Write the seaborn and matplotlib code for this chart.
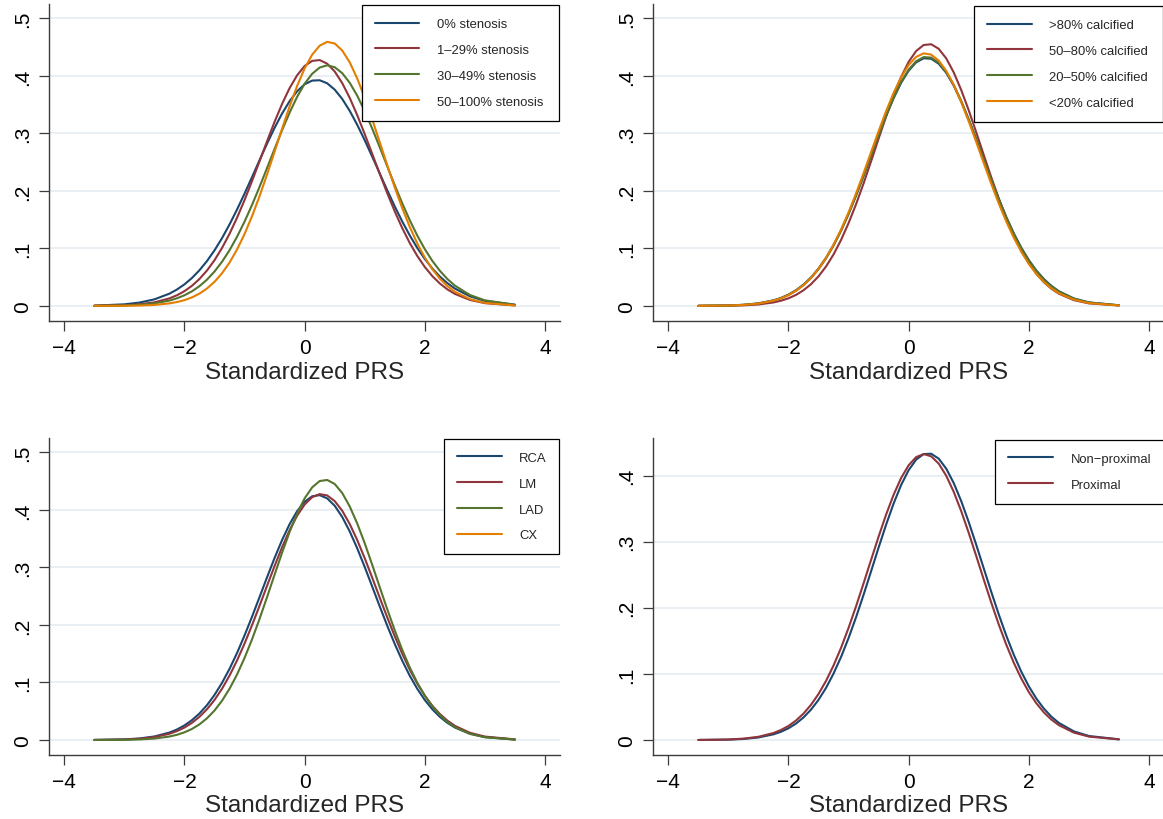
import matplotlib
matplotlib.use("Agg")
import matplotlib.pyplot as plt
from matplotlib.lines import Line2D
import pandas as pd
import seaborn as sns

# ---------------------------------------------------------------------------
# Kernel density of the standardized polygenic risk score, by lesion group
# ---------------------------------------------------------------------------
prs_grid = [-3.5, -3.0, -2.75, -2.5, -2.25, -2.125, -2.0, -1.875, -1.75, -1.625,
            -1.5, -1.375, -1.25, -1.125, -1.0, -0.875, -0.75, -0.625, -0.5, -0.375,
            -0.25, -0.125, 0.0, 0.125, 0.25, 0.375, 0.5, 0.625, 0.75, 0.875,
            1.0, 1.125, 1.25, 1.375, 1.5, 1.625, 1.75, 1.875, 2.0, 2.125,
            2.25, 2.375, 2.5, 2.75, 3.0, 3.5]

# Degree of stenosis
stenosis_labels = ["0% stenosis", "1\u201329% stenosis", "30\u201349% stenosis",
                   "50\u2013100% stenosis"]
stenosis_0 = [.0005, .0027, .0058, .0114, .0213, .0285, .0375, .0486, .0621, .0781,
              .0967, .1179, .1417, .1677, .1954, .2243, .2536, .2824, .3098, .3347,
              .3562, .3734, .3855, .3919, .3925, .3872, .3762, .3600, .3393, .3150,
              .2881, .2595, .2303, .2011, .1730, .1467, .1225, .1007, .0816, .0651,
              .0511, .0396, .0302, .0167, .0087, .0020]
stenosis_1_29 = [.0002, .0011, .0028, .0062, .0131, .0185, .0257, .0350, .0469, .0616,
                 .0795, .1008, .1255, .1534, .1842, .2173, .2519, .2866, .3203, .3515,
                 .3789, .4012, .4173, .4262, .4276, .4213, .4078, .3876, .3619, .3318,
                 .2988, .2643, .2297, .1960, .1643, .1352, .1093, .0868, .0677, .0518,
                 .0390, .0288, .0209, .0104, .0048, .0008]
stenosis_30_49 = [.0001, .0008, .0019, .0044, .0093, .0132, .0185, .0254, .0344, .0457,
                  .0598, .0768, .0969, .1203, .1467, .1758, .2072, .2400, .2733, .3058,
                  .3363, .3637, .3865, .4038, .4146, .4185, .4152, .4049, .3881, .3657,
                  .3387, .3083, .2759, .2427, .2098, .1783, .1489, .1223, .0987, .0783,
                  .0611, .0468, .0353, .0190, .0096, .0020]
stenosis_50_100 = [.0001, .0002, .0006, .0017, .0044, .0067, .0100, .0148, .0214, .0303,
                   .0419, .0568, .0754, .0981, .1251, .1562, .1910, .2288, .2684, .3084,
                   .3471, .3827, .4132, .4370, .4526, .4593, .4565, .4443, .4237, .3957,
                   .3619, .3243, .2846, .2446, .2059, .1698, .1372, .1085, .0841, .0638,
                   .0474, .0345, .0246, .0118, .0052, .0008]

# Degree of calcification
calcified_labels = [">80% calcified", "50\u201380% calcified", "20\u201350% calcified",
                    "<20% calcified"]
calcified_gt80 = [.0001, .0007, .0019, .0044, .0096, .0138, .0196, .0272, .0370, .0495,
                  .0650, .0837, .1059, .1316, .1606, .1925, .2265, .2616, .2967, .3304,
                  .3613, .3881, .4092, .4237, .4307, .4299, .4213, .4055, .3832, .3555,
                  .3239, .2897, .2545, .2195, .1859, .1546, .1262, .1012, .0797, .0616,
                  .0468, .0349, .0255, .0129, .0061, .0011]
calcified_50_80 = [.0001, .0003, .0009, .0025, .0060, .0090, .0132, .0191, .0272, .0378,
                   .0514, .0685, .0895, .1147, .1440, .1770, .2131, .2516, .2910, .3297,
                   .3660, .3983, .4245, .4434, .4538, .4551, .4472, .4306, .4062, .3755,
                   .3402, .3019, .2625, .2237, .1868, .1528, .1225, .0962, .0741, .0559,
                   .0413, .0299, .0212, .0100, .0044, .0007]
calcified_20_50 = [.0001, .0007, .0018, .0042, .0093, .0134, .0190, .0265, .0362, .0485,
                   .0639, .0826, .1048, .1305, .1596, .1917, .2260, .2615, .2970, .3312,
                   .3625, .3895, .4110, .4256, .4328, .4319, .4233, .4072, .3846, .3565,
                   .3244, .2898, .2542, .2190, .1852, .1537, .1252, .1001, .0786, .0606,
                   .0458, .0341, .0249, .0125, .0058, .0010]
calcified_lt20 = [.0001, .0006, .0017, .0040, .0091, .0132, .0188, .0263, .0361, .0487,
                  .0644, .0835, .1062, .1327, .1627, .1957, .2310, .2675, .3039, .3388,
                  .3706, .3979, .4191, .4331, .4393, .4371, .4268, .4089, .3843, .3545,
                  .3209, .2851, .2485, .2124, .1781, .1467, .1185, .0940, .0731, .0558,
                  .0418, .0307, .0221, .0109, .0049, .0008]

# Coronary artery (no CX curve is estimated)
artery_labels = ["RCA", "LM", "LAD", "CX"]
artery_rca = [.0002, .0011, .0027, .0062, .0130, .0183, .0254, .0346, .0462, .0607,
              .0784, .0994, .1237, .1513, .1818, .2145, .2486, .2830, .3165, .3477,
              .3752, .3977, .4141, .4235, .4255, .4199, .4071, .3876, .3625, .3331,
              .3006, .2665, .2320, .1985, .1668, .1377, .1116, .0889, .0695, .0534,
              .0403, .0299, .0218, .0109, .0051, .0009]
artery_lm = [.0001, .0009, .0022, .0051, .0109, .0155, .0217, .0299, .0404, .0535,
             .0697, .0891, .1120, .1383, .1677, .1997, .2335, .2682, .3025, .3352,
             .3648, .3899, .4093, .4220, .4273, .4250, .4152, .3984, .3754, .3475,
             .3159, .2820, .2473, .2130, .1802, .1497, .1222, .0979, .0771, .0596,
             .0453, .0338, .0247, .0126, .0060, .0011]
artery_lad = [.0001, .0003, .0010, .0025, .0061, .0091, .0134, .0193, .0273, .0378,
              .0513, .0683, .0891, .1139, .1427, .1751, .2107, .2486, .2875, .3257,
              .3616, .3936, .4200, .4390, .4500, .4519, .4449, .4293, .4059, .3763,
              .3419, .3043, .2655, .2272, .1905, .1565, .1260, .0995, .0770, .0583,
              .0433, .0315, .0225, .0108, .0048, .0007]
artery_cx = []

# Lesion location
location_labels = ["Non\u2212proximal", "Proximal"]
location_nonprox = [.0001, .0006, .0016, .0039, .0086, .0125, .0178, .0249, .0342, .0460,
                    .0608, .0789, .1006, .1257, .1543, .1859, .2199, .2554, .2913, .3259,
                    .3579, .3859, .4084, .4243, .4327, .4332, .4258, .4107, .3889, .3615,
                    .3298, .2954, .2597, .2242, .1900, .1580, .1290, .1034, .0813, .0628,
                    .0476, .0354, .0259, .0131, .0061, .0011]
location_prox = [.0001, .0008, .0021, .0049, .0106, .0152, .0213, .0295, .0400, .0533,
                 .0697, .0895, .1128, .1396, .1697, .2025, .2372, .2727, .3078, .3412,
                 .3712, .3965, .4158, .4281, .4327, .4293, .4183, .4000, .3756, .3463,
                 .3134, .2784, .2428, .2079, .1748, .1443, .1169, .0930, .0726, .0557,
                 .0419, .0310, .0225, .0112, .0052, .0009]

x_ticks = [-4, -2, 0, 2, 4]
x_tick_labels = ["\u22124", "\u22122", "0", "2", "4"]
y_ticks_05 = [0, .1, .2, .3, .4, .5]
y_ticks_04 = [0, .1, .2, .3, .4]
x_title = "Standardized PRS"

# Stata s2color-like line colours
colors = ["#1a476f", "#90353b", "#55752f", "#e37e00"]


def long_frame(labels, series):
    rows = []
    for lab, vals in zip(labels, series):
        if len(vals) != len(prs_grid):
            raise ValueError(f"{lab}: {len(vals)} values for {len(prs_grid)} grid points")
        for x, y in zip(prs_grid, vals):
            rows.append({"PRS": x, "density": y, "group": lab})
    return pd.DataFrame(rows)


sns.set_theme(style="white")
plt.rcParams["font.family"] = ["Liberation Sans", "DejaVu Sans"]
plt.rcParams["lines.solid_joinstyle"] = "round"
plt.rcParams["lines.solid_capstyle"] = "round"

W, H = 1163, 820
fig = plt.figure(figsize=(W / 100, H / 100), dpi=100)
fig.patch.set_facecolor("white")


def px_axes(left, top, right, bottom):
    return fig.add_axes([left / W, 1 - bottom / H, (right - left) / W, (bottom - top) / H])


AXIS_COLOR = "#3c3c3c"
GRID_COLOR = "#e8eef2"


def draw_panel(ax, labels, series, ylim, yticks, legend_box):
    drawn = [(lab, s) for lab, s in zip(labels, series) if len(s) > 0]
    df = long_frame([d[0] for d in drawn], [d[1] for d in drawn])
    pal = {lab: colors[i] for i, lab in enumerate(labels)}
    sns.lineplot(data=df, x="PRS", y="density", hue="group",
                 hue_order=[d[0] for d in drawn], palette=pal, sort=False,
                 estimator=None, linewidth=1.5, legend=False, ax=ax)
    ax.set_xlim(-4.25, 4.25)
    ax.set_ylim(*ylim)
    ax.set_xticks(x_ticks)
    ax.set_xticklabels(x_tick_labels)
    ax.set_yticks(yticks)
    ax.set_yticklabels(["0" if v == 0 else ("%.1f" % v).lstrip("0") for v in yticks],
                       rotation=90, va="center")
    for sp in ["top", "right"]:
        ax.spines[sp].set_visible(False)
    for sp in ["left", "bottom"]:
        ax.spines[sp].set_color(AXIS_COLOR)
        ax.spines[sp].set_linewidth(1.0)
    ax.tick_params(axis="both", direction="out", length=7.2, width=0.9,
                   color=AXIS_COLOR, labelsize=15, labelcolor="black",
                   bottom=True, left=True)
    ax.tick_params(axis="x", pad=5)
    ax.tick_params(axis="y", pad=5.5)
    ax.grid(False)
    for v in yticks:
        ax.axhline(v, color=GRID_COLOR, linewidth=1.3, zorder=0)
    ax.set_xlabel(x_title, fontsize=17.5, labelpad=2.5)
    ax.set_ylabel("")
    handles = [Line2D([], [], color=colors[i], linewidth=1.5) for i in range(len(labels))]
    x0, w, ytop = legend_box
    leg = ax.legend(handles, labels, loc="upper left", bbox_to_anchor=(x0, ytop, w, 0),
                    mode="expand", borderaxespad=0, fontsize=9.4, frameon=True,
                    fancybox=False, framealpha=1, edgecolor="black",
                    handlelength=3.4, handletextpad=1.35, labelspacing=1.05,
                    borderpad=1.0)
    leg.get_frame().set_linewidth(0.9)


p1 = px_axes(49.3, 4.5, 560, 322.3)
p2 = px_axes(653.3, 4.5, 1164, 322.3)
p3 = px_axes(49.3, 439, 560, 755.7)
p4 = px_axes(653.3, 439, 1164, 755.7)

draw_panel(p1, stenosis_labels,
           [stenosis_0, stenosis_1_29, stenosis_30_49, stenosis_50_100],
           (-0.0268, 0.526), y_ticks_05, (0.6117, 0.3869, 0.9953))
draw_panel(p2, calcified_labels,
           [calcified_gt80, calcified_50_80, calcified_20_50, calcified_lt20],
           (-0.0268, 0.526), y_ticks_05, (0.6285, 0.3705, 0.9921))
draw_panel(p3, artery_labels,
           [artery_rca, artery_lm, artery_lad, artery_cx],
           (-0.0255, 0.5248), y_ticks_05, (0.7734, 0.2252, 0.998))
draw_panel(p4, location_labels,
           [location_nonprox, location_prox],
           (-0.0222, 0.457), y_ticks_04, (0.6697, 0.3294, 0.9946))

fig.savefig("out.png", dpi=100, facecolor="white")
